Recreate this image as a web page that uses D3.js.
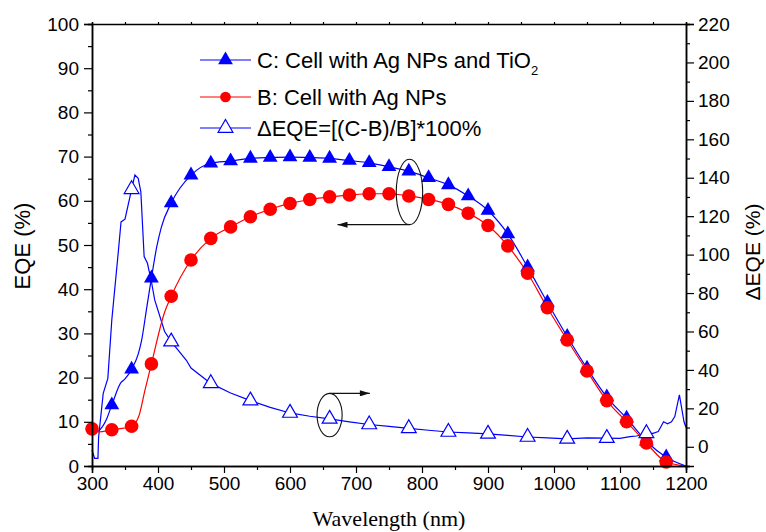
<!DOCTYPE html>
<html>
<head>
<meta charset="utf-8">
<script src="https://cdn.jsdelivr.net/npm/d3@7"></script>
<style>
  body { margin: 0; background: #fff; }
  svg { display: block; }
</style>
</head>
<body>
<svg id="chart"></svg>
<script>
// Config
const width = 766;
const height = 532;

// C: Cell with Ag NPs and TiO2 (left axis)
const cNm  = [300, 310, 322, 330, 344, 350, 360, 370, 375, 383, 390, 398, 405, 420, 450, 480, 510, 540, 570, 600,
              630, 660, 690, 720, 750, 780, 810, 840, 870, 900, 930, 960, 990, 1020, 1050, 1080, 1110, 1140, 1170, 1200];
const cEqe = [7.5, 8, 10.6, 13.8, 18.9, 19.7, 21.9, 25.3, 28.3, 35.9, 42.5, 49.5, 54, 59.5, 65.8, 68.5, 69, 69.6, 69.8, 69.9,
              69.8, 69.6, 69.1, 68.6, 67.7, 66.7, 65.2, 63.6, 61.1, 57.8, 52.5, 45, 37, 29.3, 22.1, 15.6, 10.8, 5.6, 2.0, 0];
const cMarkNm = [330, 360, 390, 420, 450, 480, 510, 540, 570, 600, 630, 660, 690, 720, 750, 780, 810, 840, 870, 900,
                 930, 960, 990, 1020, 1050, 1080, 1110, 1140, 1170];

// B: Cell with Ag NPs (left axis)
const bNm  = [300, 310, 330, 360, 371, 380, 390, 410, 420, 450, 480, 510, 540, 570, 600, 630, 660, 690, 720, 750,
              780, 810, 840, 870, 900, 930, 960, 990, 1020, 1050, 1080, 1110, 1140, 1170, 1200];
const bEqe = [8.4, 7.7, 8.2, 9.0, 11.3, 17, 23.1, 34.8, 38.4, 46.6, 51.5, 54.1, 56.4, 58.1, 59.4, 60.3, 60.9, 61.3, 61.6, 61.6,
              61.1, 60.3, 59.2, 57.2, 54.4, 49.8, 43.6, 35.8, 28.5, 21.5, 14.8, 10.0, 5.2, 0.9, 0];
const bMarkNm = [300, 330, 360, 390, 420, 450, 480, 510, 540, 570, 600, 630, 660, 690, 720, 750, 780, 810, 840, 870,
                 900, 930, 960, 990, 1020, 1050, 1080, 1110, 1140, 1170];

// Delta EQE (right axis)
const dNm  = [300, 304, 309, 310, 317, 324, 330, 340, 344, 350, 360, 365, 370, 374, 379, 384, 390, 395, 410, 420,
              443, 450, 480, 510, 540, 570, 600, 630, 660, 690, 720, 750, 780, 810, 840, 870, 900, 930, 960, 990,
              1020, 1050, 1080, 1100, 1115, 1125, 1140, 1150, 1158, 1166, 1172, 1178, 1183, 1190, 1197, 1200];
const dVal = [-1.7, -6, -6, 5, 27.8, 35.6, 66, 102, 117, 118.4, 134, 141.4, 139.7, 132.7, 99, 95.5, 86, 76.4, 60, 54.7,
              45, 41, 33, 28, 24, 20.5, 17.6, 15.9, 14.5, 13, 11.6, 10.6, 9.6, 8.6, 7.7, 7.2, 6.7, 5.9, 5.1, 4.6,
              4.1, 4.6, 4.5, 4.4, 5.3, 5.6, 7, 7, 7.9, 13, 12, 13, 15.7, 27, 13, 10];
const dMarkNm = [360, 420, 480, 540, 600, 660, 720, 780, 840, 900, 960, 1020, 1080, 1140];

// Axis ticks
const xMajor = d3.range(300, 1201, 100);
const xMinor = d3.range(350, 1200, 100);
const yLMajor = d3.range(0, 101, 10);
const yLMinor = d3.range(5, 100, 10);
const yRMajor = d3.range(0, 221, 20);
const yRMinor = d3.range(-10, 220, 20);

// Legend
const legendLabels = ["C: Cell with Ag NPs and TiO", "B: Cell with Ag NPs", "\u0394EQE=[(C-B)/B]*100%"];

const blue = "#0000ff";
const red = "#ff0000";
const font = "'Liberation Sans', Arial, sans-serif";

const svg = d3.select("#chart")
  .attr("width", width)
  .attr("height", height);

const x = d3.scaleLinear().domain([300, 1200]).range([92, 686]);
const yL = d3.scaleLinear().domain([0, 100]).range([466, 24]);
const yR = d3.scaleLinear().domain([-10, 220]).range([466, 24]);

const zip = (a, b) => a.map((v, i) => [v, b[i]]);

// Lines
const lineL = d3.line().x(d => x(d[0])).y(d => yL(d[1])).curve(d3.curveMonotoneX);
const lineR = d3.line().x(d => x(d[0])).y(d => yR(d[1]));

svg.append("path")
  .attr("d", lineR(zip(dNm, dVal)))
  .attr("fill", "none").attr("stroke", blue).attr("stroke-width", 1.2);

svg.append("path")
  .attr("d", lineL(zip(cNm, cEqe)))
  .attr("fill", "none").attr("stroke", blue).attr("stroke-width", 1.2);

svg.append("path")
  .attr("d", lineL(zip(bNm, bEqe)))
  .attr("fill", "none").attr("stroke", red).attr("stroke-width", 1.2);

// Markers
const tri = d3.symbol().type(d3.symbolTriangle).size(95);
const circ = d3.symbol().type(d3.symbolCircle).size(145);

svg.append("g").selectAll("path")
  .data(zip(cNm, cEqe).filter(d => cMarkNm.includes(d[0])))
  .join("path")
  .attr("d", tri)
  .attr("transform", d => `translate(${x(d[0])},${yL(d[1])})`)
  .attr("fill", blue);

svg.append("g").selectAll("path")
  .data(zip(bNm, bEqe).filter(d => bMarkNm.includes(d[0])))
  .join("path")
  .attr("d", circ)
  .attr("transform", d => `translate(${x(d[0])},${yL(d[1])})`)
  .attr("fill", red);

svg.append("g").selectAll("path")
  .data(zip(dNm, dVal).filter(d => dMarkNm.includes(d[0])))
  .join("path")
  .attr("d", tri)
  .attr("transform", d => `translate(${x(d[0])},${yR(d[1])})`)
  .attr("fill", "#fff").attr("stroke", blue).attr("stroke-width", 1.2);

// Annotation ellipses + arrows (data coords)
svg.append("defs").append("marker")
  .attr("id", "head")
  .attr("viewBox", "0 0 10 6")
  .attr("refX", 10).attr("refY", 3)
  .attr("markerWidth", 11).attr("markerHeight", 6)
  .attr("markerUnits", "userSpaceOnUse")
  .attr("orient", "auto")
  .append("path").attr("d", "M0,0L10,3L0,6Z").attr("fill", "#111");

// left pointing (B and C -> left axis)
svg.append("ellipse")
  .attr("cx", x(781)).attr("cy", yL(62))
  .attr("rx", x(801) - x(781)).attr("ry", yL(62) - yL(69.4))
  .attr("fill", "none").attr("stroke", "#111").attr("stroke-width", 1.1);
svg.append("line")
  .attr("x1", x(781)).attr("y1", yL(54.6))
  .attr("x2", x(672)).attr("y2", yL(54.6))
  .attr("stroke", "#111").attr("stroke-width", 1.1)
  .attr("marker-end", "url(#head)");

// right pointing (delta -> right axis)
svg.append("ellipse")
  .attr("cx", x(660)).attr("cy", yR(16.5))
  .attr("rx", x(679) - x(660)).attr("ry", yR(16.5) - yR(27.8))
  .attr("fill", "none").attr("stroke", "#111").attr("stroke-width", 1.1);
svg.append("line")
  .attr("x1", x(660)).attr("y1", yR(27.8))
  .attr("x2", x(721)).attr("y2", yR(27.8))
  .attr("stroke", "#111").attr("stroke-width", 1.1)
  .attr("marker-end", "url(#head)");

// Axes
function styleAxis(g) {
  g.select(".domain").attr("stroke", "#000").attr("stroke-width", 1.5);
  g.selectAll(".tick line").attr("stroke", "#000").attr("stroke-width", 1.2);
  g.selectAll("text").attr("font-family", font).attr("font-size", 19).attr("fill", "#000");
}

svg.append("g").attr("transform", "translate(0,466)")
  .call(d3.axisBottom(x).tickValues(xMajor).tickSize(7).tickPadding(4).tickFormat(d3.format("d")))
  .call(styleAxis);
svg.append("g").attr("transform", "translate(0,466)")
  .call(d3.axisBottom(x).tickValues(xMinor).tickSize(4).tickFormat(""))
  .call(styleAxis);

svg.append("g").attr("transform", "translate(0,24)")
  .call(d3.axisTop(x).tickValues(xMajor.concat(xMinor)).tickSize(2).tickFormat(""))
  .call(styleAxis);

svg.append("g").attr("transform", "translate(92,0)")
  .call(d3.axisLeft(yL).tickValues(yLMajor).tickSize(8).tickPadding(5))
  .call(styleAxis);
svg.append("g").attr("transform", "translate(92,0)")
  .call(d3.axisLeft(yL).tickValues(yLMinor).tickSize(4).tickFormat(""))
  .call(styleAxis);

svg.append("g").attr("transform", "translate(686,0)")
  .call(d3.axisRight(yR).tickValues(yRMajor).tickSize(8).tickPadding(4))
  .call(styleAxis);
svg.append("g").attr("transform", "translate(686,0)")
  .call(d3.axisRight(yR).tickValues(yRMinor).tickSize(4).tickFormat(""))
  .call(styleAxis);

// Axis titles
svg.append("text")
  .attr("x", 389).attr("y", 526)
  .attr("text-anchor", "middle")
  .attr("font-family", "'Liberation Serif', 'Times New Roman', serif")
  .attr("font-size", 22)
  .text("Wavelength (nm)");

svg.append("text")
  .attr("transform", "translate(30,246) rotate(-90)")
  .attr("text-anchor", "middle")
  .attr("font-family", font).attr("font-size", 22)
  .text("EQE (%)");

svg.append("text")
  .attr("transform", "translate(760,252) rotate(-90)")
  .attr("text-anchor", "middle")
  .attr("font-family", font).attr("font-size", 21)
  .text("\u0394EQE (%)");

// Legend
const legendY = [60, 97, 128];
const lg = svg.append("g");
legendLabels.forEach((label, i) => {
  const yy = legendY[i];
  const col = i === 1 ? red : blue;
  lg.append("line")
    .attr("x1", 200).attr("x2", 251).attr("y1", yy).attr("y2", yy)
    .attr("stroke", col).attr("stroke-width", 1.2);
  const sym = lg.append("path")
    .attr("transform", `translate(225.5,${yy})`);
  if (i === 0) sym.attr("d", tri).attr("fill", blue);
  if (i === 1) sym.attr("d", d3.symbol().type(d3.symbolCircle).size(90)).attr("fill", red);
  if (i === 2) sym.attr("d", tri).attr("fill", "#fff").attr("stroke", blue).attr("stroke-width", 1.2);
  const t = lg.append("text")
    .attr("x", 257).attr("y", yy + 8)
    .attr("font-family", font).attr("font-size", 22)
    .text(label);
  if (i === 0) {
    t.append("tspan").attr("font-size", 13).attr("dy", 7).text("2");
  }
});
</script>
</body>
</html>
